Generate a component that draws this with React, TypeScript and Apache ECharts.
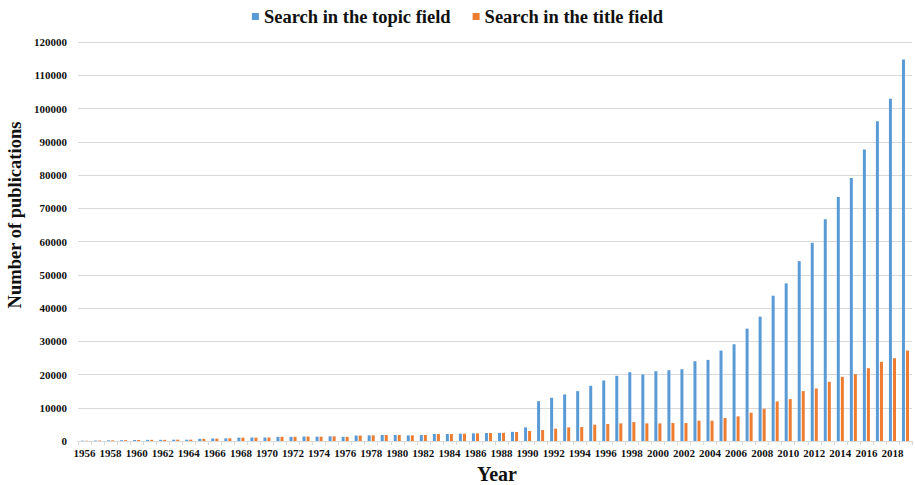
import React, { useEffect, useRef } from "react";
import * as echarts from "echarts";

const years: string[] = [
  "1956","1957","1958","1959","1960","1961","1962","1963","1964","1965",
  "1966","1967","1968","1969","1970","1971","1972","1973","1974","1975",
  "1976","1977","1978","1979","1980","1981","1982","1983","1984","1985",
  "1986","1987","1988","1989","1990","1991","1992","1993","1994","1995",
  "1996","1997","1998","1999","2000","2001","2002","2003","2004","2005",
  "2006","2007","2008","2009","2010","2011","2012","2013","2014","2015",
  "2016","2017","2018","2019",
];

const topicField: number[] = [
  100, 150, 200, 250, 300, 350, 350, 400, 400, 650,
  750, 800, 1000, 1050, 1050, 1250, 1250, 1350, 1300, 1400,
  1250, 1650, 1700, 1800, 1800, 1700, 1800, 2100, 2100, 2200,
  2300, 2400, 2450, 2750, 4100, 12000, 13000, 14000, 15000, 16600,
  18200, 19600, 20700, 20000, 21000, 21300, 21600, 24000, 24400, 27200,
  29100, 33800, 37400, 43700, 47400, 54100, 59600, 66700, 73400, 79100,
  87700, 96200, 102900, 114700,
];

const titleField: number[] = [
  80, 150, 200, 250, 300, 350, 350, 400, 400, 650,
  700, 800, 1000, 1000, 1050, 1250, 1250, 1350, 1300, 1400,
  1250, 1650, 1700, 1800, 1800, 1700, 1800, 2100, 2100, 2200,
  2300, 2400, 2450, 2700, 3000, 3300, 3700, 4100, 4200, 4900,
  5100, 5300, 5700, 5300, 5300, 5400, 5400, 6100, 6100, 6900,
  7400, 8500, 9700, 11900, 12600, 15000, 15800, 17800, 19300, 20100,
  21900, 23800, 24900, 27200,
];

const seriesNames = ["Search in the topic field", "Search in the title field"];
const FONT = '"Liberation Serif", "Times New Roman", serif';

export default function App() {
  const ref = useRef<HTMLDivElement>(null);
  useEffect(() => {
    document.body.style.margin = "0";
    if (!ref.current) return;
    const chart = echarts.init(ref.current, undefined, { renderer: "svg" });
    chart.setOption({
      animation: false,
      textStyle: { fontFamily: FONT },
      legend: {
        top: 2,
        left: "center",
        itemWidth: 7,
        itemHeight: 7,
        itemGap: 22,
        icon: "rect",
        textStyle: { fontFamily: FONT, fontSize: 18.5, fontWeight: "bold", color: "#111" },
        data: seriesNames,
      },
      grid: { left: 78, right: 3, top: 42, bottom: 44, containLabel: false },
      xAxis: {
        type: "category",
        data: years,
        axisLine: { lineStyle: { color: "#d9d9d9" } },
        axisTick: { show: true, alignWithLabel: false, interval: 0, length: 4, lineStyle: { color: "#d9d9d9" } },
        axisLabel: {
          interval: 1,
          margin: 6,
          fontFamily: FONT,
          fontSize: 11,
          fontWeight: "bold",
          color: "#111",
        },
      },
      yAxis: {
        type: "value",
        min: 0,
        max: 120000,
        interval: 10000,
        axisLine: { show: false },
        axisTick: { show: false },
        splitLine: { lineStyle: { color: "#d9d9d9", width: 1 } },
        axisLabel: {
          margin: 11,
          fontFamily: FONT,
          fontSize: 11,
          fontWeight: "bold",
          color: "#111",
          formatter: (v: number) => String(v),
        },
      },
      series: [
        {
          name: seriesNames[0],
          type: "bar",
          data: topicField,
          barWidth: 3,
          barGap: "35%",
          itemStyle: { color: "#5B9BD5" },
        },
        {
          name: seriesNames[1],
          type: "bar",
          data: titleField,
          barWidth: 3,
          itemStyle: { color: "#ED7D31" },
        },
      ],
      graphic: [
        {
          type: "text",
          x: 15,
          y: 215,
          rotation: Math.PI / 2,
          style: {
            text: "Number of publications",
            font: `bold 18.5px ${FONT}`,
            fill: "#111",
            align: "center",
            verticalAlign: "middle",
          },
        },
        {
          type: "text",
          x: 497,
          y: 474,
          style: {
            text: "Year",
            font: `bold 20px ${FONT}`,
            fill: "#111",
            align: "center",
            verticalAlign: "middle",
          },
        },
      ],
    });
    return () => chart.dispose();
  }, []);
  return <div ref={ref} style={{ width: 915, height: 485 }} />;
}
